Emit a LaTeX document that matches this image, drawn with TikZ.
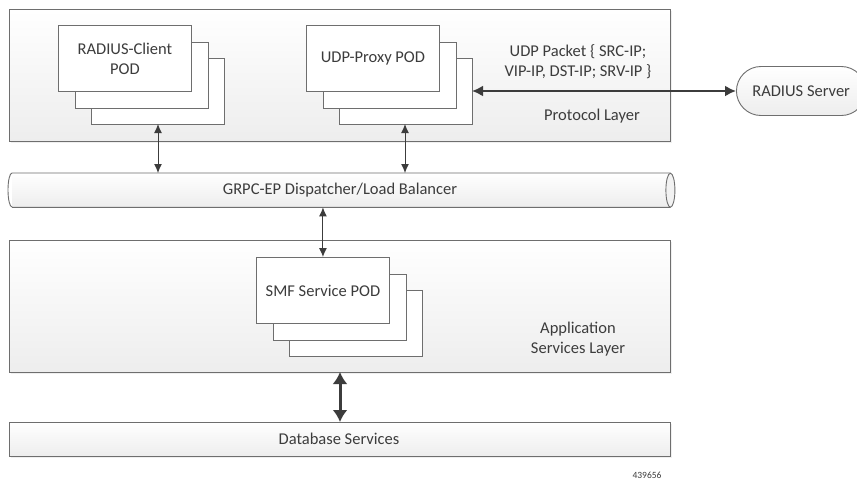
\documentclass[tikz,border=0pt]{standalone}
\usepackage{fontspec}
\setmainfont{Carlito}
\usetikzlibrary{arrows.meta,shapes.misc,shadows}
\definecolor{edgegray}{HTML}{6E6E6E}
\definecolor{textgray}{HTML}{3C3C3C}
\begin{document}
\begin{tikzpicture}[x=1pt,y=-1pt,
  font=\fontsize{16.5}{20}\selectfont, text=textgray,
  layer/.style={draw=edgegray,line width=0.9pt,top color=white,bottom color=black!7,
    drop shadow={shadow xshift=1.5pt,shadow yshift=-1.5pt,fill=black!12},
    minimum width=661pt,anchor=north west,inner sep=0pt},
  pod/.style={draw=edgegray,line width=0.9pt,fill=white,minimum width=133pt,
    minimum height=66pt,anchor=north west,align=center,inner sep=2pt},
  link/.style={draw=textgray,line width=1pt,{Latex[length=9pt,width=8pt]}-{Latex[length=9pt,width=8pt]}},
  biglink/.style={draw=textgray,line width=3pt,{Latex[length=12pt,width=15pt]}-{Latex[length=12pt,width=15pt]}}]
  \useasboundingbox[fill=white] (0,0) rectangle (857,482);

  % layers
  \node[layer,minimum height=132pt] (protocol) at (9,9) {};
  \node[layer,minimum height=132pt] (appl) at (9,240) {};
  \node[layer,minimum height=34pt] (db) at (9,422) {};
  \node at (339,439) {Database Services};
  \node at (592,116) {Protocol Layer};
  \node[align=center] at (578,339) {Application\\Services Layer};
  \node[align=center] at (578,62) {UDP Packet \{ SRC-IP;\\VIP-IP, DST-IP; SRV-IP \}};

  % pipe
  \node[minimum width=658pt,minimum height=34pt,inner sep=0pt,anchor=north west,
    top color=white,bottom color=black!7] (grpc) at (12,173) {};
  \draw[edgegray,line width=0.9pt] (grpc.north west) -- (grpc.north east)
    (grpc.south west) -- (grpc.south east)
    (grpc.north west) arc[start angle=90,end angle=270,x radius=4pt,y radius=17pt];
  \draw[edgegray,line width=0.9pt,fill=white!95!black] (grpc.east) ellipse[x radius=4.5pt,y radius=17pt];
  \node at (340,190) {GRPC-EP Dispatcher/Load Balancer};

  % pods
  \foreach \d in {2,1} {
    \node[pod] at (58+16.5*\d,25+16.5*\d) {};
    \node[pod] at (306+16.5*\d,25+16.5*\d) {};
    \node[pod] at (256+16.5*\d,257+16.5*\d) {};
  }
  \node[pod] (client) at (58,25) {RADIUS-Client\\POD};
  \node[pod] (proxy) at (306,25) {UDP-Proxy POD};
  \node[pod] (smf) at (256,257) {SMF Service POD};
  \coordinate (clientback) at (158,124);
  \coordinate (proxyback) at (405,124);
  \coordinate (proxyside) at (472,91);

  \node[draw=edgegray,line width=0.9pt,rounded rectangle,top color=white,bottom color=black!7,
    minimum height=49pt,minimum width=136pt,anchor=west] (radius) at (736,91) {RADIUS Server\hspace{10pt}};

  % connectors
  \draw[link] (clientback) -- (clientback |- grpc.north);
  \draw[link] (proxyback) -- (proxyback |- grpc.north);
  \draw[link] (smf.north |- grpc.south) -- (smf.north);
  \draw[link,line width=2pt,{Latex[length=11pt,width=11pt]}-{Latex[length=11pt,width=11pt]}] (proxyside) -- (radius.west);
  \draw[biglink] (340,372) -- (340,422);

  \node[font=\fontsize{9.5}{11}\selectfont] at (647,475) {439656};
\end{tikzpicture}
\end{document}
